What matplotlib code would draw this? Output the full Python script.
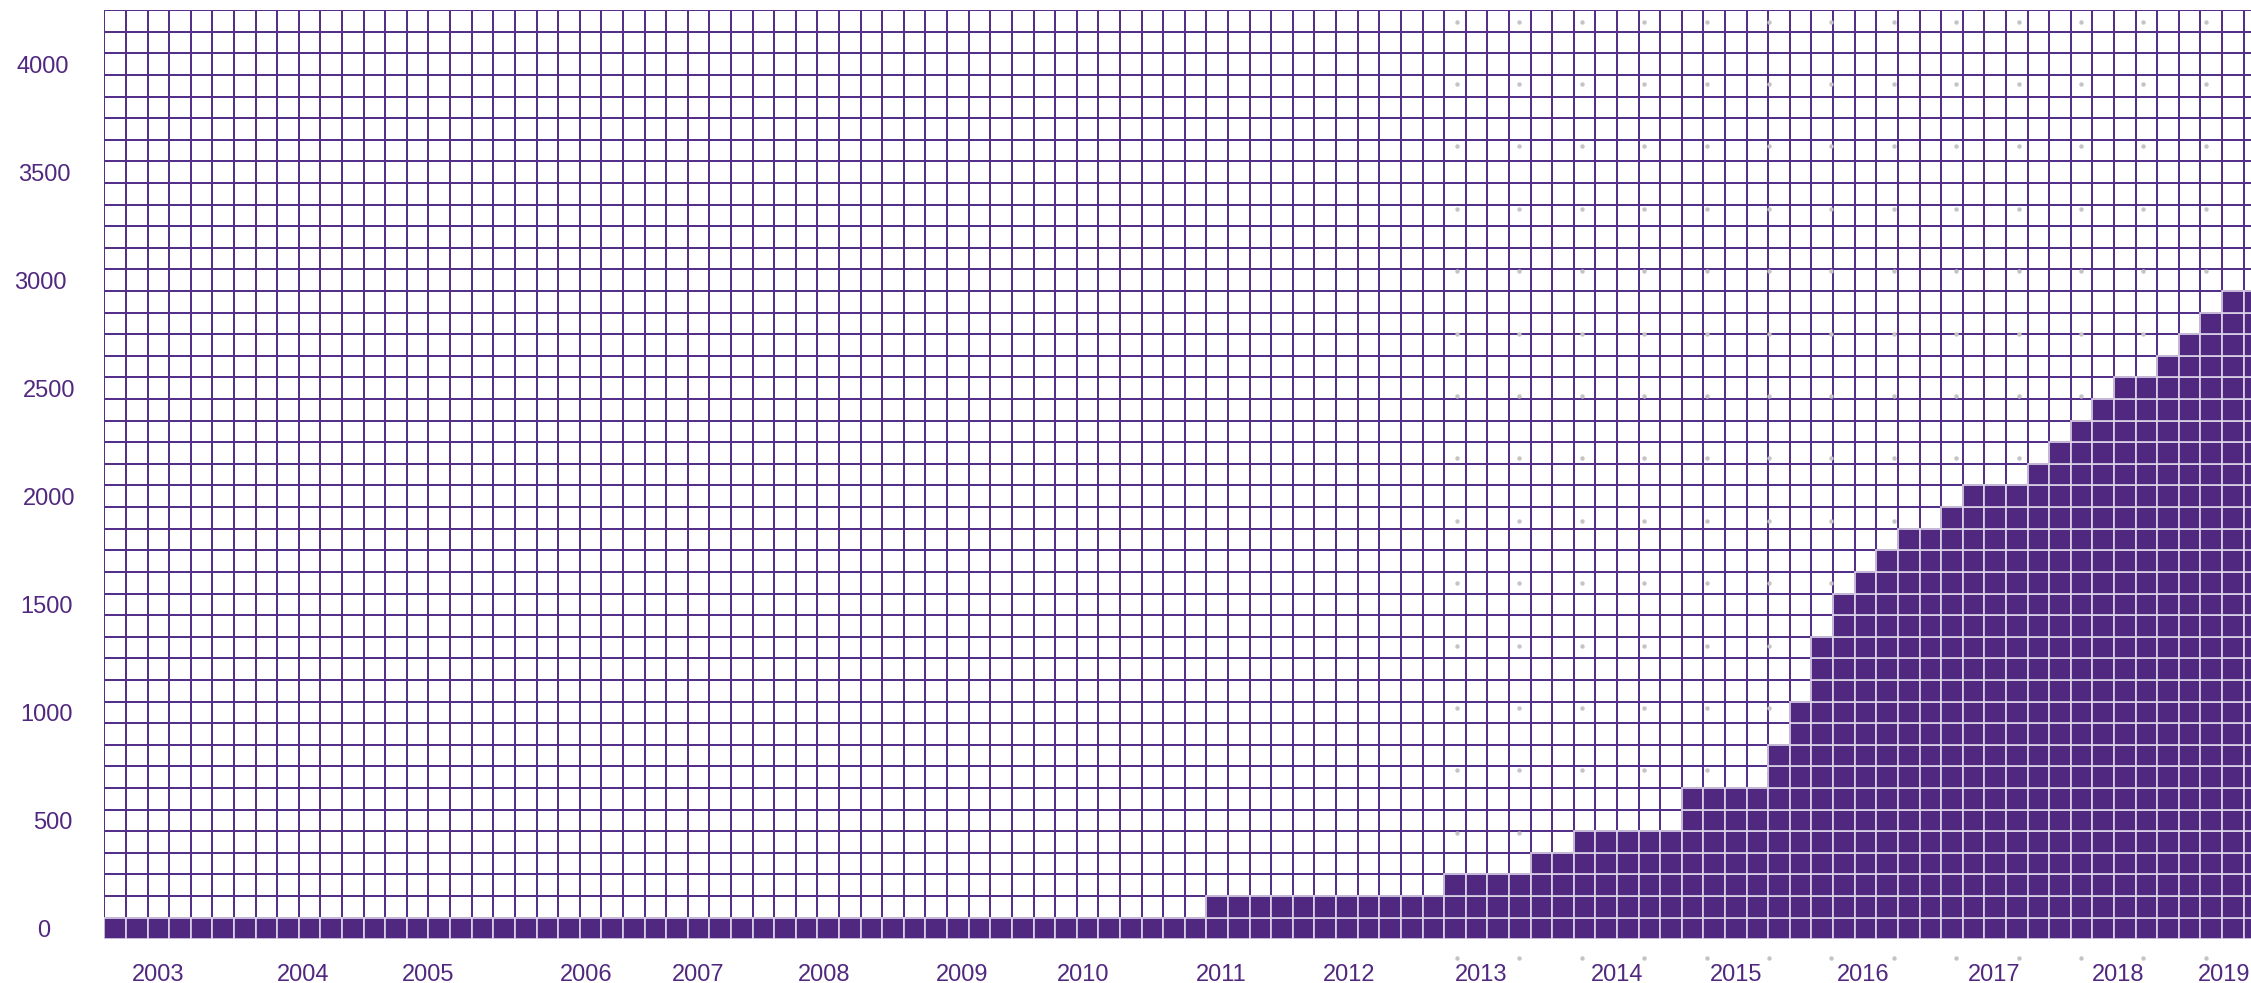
import numpy as np
import matplotlib
matplotlib.use("Agg")
import matplotlib.pyplot as plt
from matplotlib.colors import ListedColormap
from matplotlib.transforms import (blended_transform_factory, IdentityTransform,
                                   ScaledTranslation)

# ---------------- data ----------------
# cumulative value per (bi-monthly) column, read from the cell staircase
col_values = ([0] * 51 + [100] * 11 + [200] * 4 + [300] * 2 + [400] * 5 +
              [600] * 4 + [800, 1000, 1300, 1500, 1600, 1700, 1800, 1800, 1900,
                           2000, 2000, 2000, 2100, 2200, 2300, 2400, 2500, 2500,
                           2600, 2700, 2800, 2900, 2900])
row_levels = list(range(0, 4300, 100))          # one grid row per 100
y_tick_values = [0, 500, 1000, 1500, 2000, 2500, 3000, 3500, 4000]
year_labels = [str(y) for y in range(2003, 2020)]
year_label_cols = [1.98, 8.7, 14.5, 21.8, 27.0, 32.8, 39.2, 44.8, 51.2,
                   57.1, 63.2, 69.5, 75.0, 80.9, 86.95, 92.7, 97.6]

# ---------------- style ----------------
PURPLE = "#51287F"
GRID = "#55308A"
LIGHT = "#DCD3E8"
W, H, DPI = 2251, 983, 100
LEFT_PX, BOTTOM_PX, CELL = 104.3, 939.3, 21.61
ncols = len(col_values)
nrows = len(row_levels)

fig = plt.figure(figsize=(W / DPI, H / DPI), dpi=DPI)
fig.patch.set_facecolor("white")
ax = fig.add_axes([LEFT_PX / W, (H - BOTTOM_PX) / H,
                   ncols * CELL / W, nrows * CELL / H])
ax.set_xlim(-0.5, ncols - 0.5)
ax.set_ylim(row_levels[0] - 50, row_levels[-1] + 50)
for s in ax.spines.values():
    s.set_visible(False)
ax.set_xticks([])
ax.set_yticks([])

# empty grid
xedges = np.arange(ncols + 1) - 0.5
yedges = np.array(row_levels + [row_levels[-1] + 100]) - 50
ax.pcolormesh(xedges, yedges, np.zeros((nrows, ncols)),
              cmap=ListedColormap(["white"]), edgecolors=GRID,
              linewidth=1.25, zorder=1)

# faint ghost dots (decorative background artefact)
gx = 1457 + 62.4 * np.arange(13)
gy = 21.5 + 62.4 * np.arange(16)
GX, GY = np.meshgrid(gx, gy)
ax.plot(GX.ravel(), H - GY.ravel(), linestyle="none", marker="o",
        markersize=3.2, color="#C4C4C4", markeredgewidth=0,
        transform=IdentityTransform(), clip_on=False, zorder=2)

# filled cells
cols = np.arange(ncols)
vals = np.array(col_values)
for lvl in row_levels:
    sel = cols[vals >= lvl]
    if len(sel):
        ax.bar(sel, 100, bottom=lvl - 50, width=1.0, color=PURPLE,
               edgecolor=LIGHT, linewidth=1.2, zorder=3)

# y labels
ylab_px = [44, 53, 47, 47, 49, 49, 40, 44, 43]
shift_y = ScaledTranslation(0, -3 / DPI, fig.dpi_scale_trans)
tr_y = blended_transform_factory(ax.transAxes, ax.transData) + shift_y
for v, px in zip(y_tick_values, ylab_px):
    ax.text((px - LEFT_PX) / (ncols * CELL), v, str(v), transform=tr_y,
            ha="center", va="center", color=PURPLE, fontsize=17,
            family="Liberation Sans")

# x labels
tr_x = blended_transform_factory(ax.transData, ax.transAxes)
yfrac = (BOTTOM_PX - 975) / (nrows * CELL)
for lab, c in zip(year_labels, year_label_cols):
    ax.text(c, yfrac, lab, transform=tr_x, ha="center", va="center",
            color=PURPLE, fontsize=17, family="Liberation Sans", clip_on=False)

fig.savefig("out.png", dpi=DPI)
